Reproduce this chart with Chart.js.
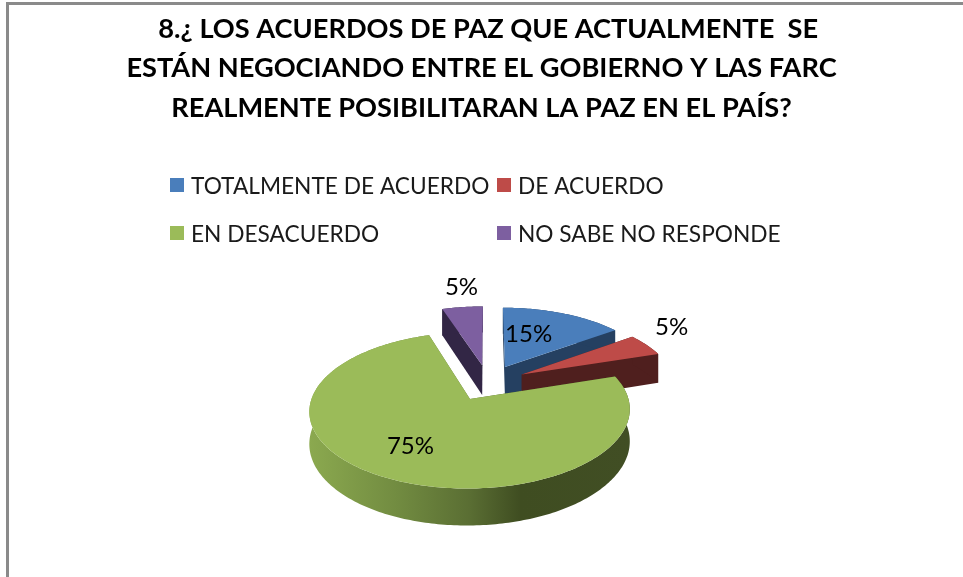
<!DOCTYPE html>
<html>
<head>
<meta charset="utf-8">
<style>
html,body{margin:0;padding:0;background:#fff;width:963px;height:577px;overflow:hidden}
#frame{position:absolute;left:6px;top:2px;right:0;bottom:0;border-left:3px solid #8a8a8a;border-top:3px solid #8a8a8a;pointer-events:none}
canvas{position:absolute;left:0;top:0;filter:blur(0.35px)}
</style>
<script src="https://cdn.jsdelivr.net/npm/chart.js@4/dist/chart.umd.js"></script>
</head>
<body>
<canvas id="c" width="963" height="577"></canvas>
<div id="frame"></div>
<script>
const titleLines = [
  "  8.¿ LOS ACUERDOS DE PAZ QUE ACTUALMENTE  SE",
  "ESTÁN NEGOCIANDO ENTRE EL GOBIERNO Y LAS FARC",
  "REALMENTE POSIBILITARAN LA PAZ EN EL PAÍS?"
];
const categories = ["TOTALMENTE DE ACUERDO", "DE ACUERDO", "EN DESACUERDO", "NO SABE NO RESPONDE"];
const values = [15, 5, 75, 5];
const topColors = ["#4a7ebb", "#be4b48", "#9bbb59", "#7d5fa0"];
const sideColors = ["#254061", "#4f1f1e", null, "#322645"];
const greenSideStops = [[0, "#8ba94f"], [0.27, "#728c41"], [0.5, "#5a6e33"], [0.66, "#3f4d21"], [1, "#414e24"]];

const FONT = "Lato, Carlito, Calibri, sans-serif";
// View of the tilted plane: where the pie centre lands, tilt, perspective, thickness.
const VIEW = { x: 488, y: 382.5, tilt: 0.467, persp: 0.00092, depth: 30.6 };
// Radius and angular nudge of each data label around its slice.
const labelRadius = [84, 206.7, 101.5, 213.7];
const labelNudgeDeg = [-8, -6.8, 3.4, 1.85];
// Legend grid.
const LEGEND = { cols: [170, 497], rows: [185, 233], box: 14, gap: 7, size: 22.7, textDrop: 1.5 };

function project(px, py, z) {
  const s = 1 / (1 - VIEW.persp * py);
  return [VIEW.x + px * s, VIEW.y + py * VIEW.tilt * s - (z || 0) * s];
}
function sliceGeom(el) {
  const p = el.getProps(["startAngle", "endAngle", "outerRadius"], true);
  const mid = (p.startAngle + p.endAngle) / 2;
  const off = el.options.offset || 0;
  return { a0: p.startAngle, a1: p.endAngle, r: p.outerRadius, mid, cx: Math.cos(mid) * off, cy: Math.sin(mid) * off };
}
function rimPoints(g, z) {
  const pts = [];
  const n = Math.max(4, Math.ceil((g.a1 - g.a0) / (Math.PI / 180)));
  for (let i = 0; i <= n; i++) {
    const t = g.a0 + (g.a1 - g.a0) * i / n;
    pts.push(project(g.cx + Math.cos(t) * g.r, g.cy + Math.sin(t) * g.r, z));
  }
  return pts;
}
function poly(ctx, pts, fill) {
  ctx.beginPath();
  pts.forEach((q, i) => i ? ctx.lineTo(q[0], q[1]) : ctx.moveTo(q[0], q[1]));
  ctx.closePath();
  ctx.fillStyle = fill;
  ctx.fill();
}
function radialWall(ctx, g, angle, fill) {
  const rx = g.cx + Math.cos(angle) * g.r, ry = g.cy + Math.sin(angle) * g.r;
  poly(ctx, [project(g.cx, g.cy, 0), project(rx, ry, 0), project(rx, ry, -VIEW.depth), project(g.cx, g.cy, -VIEW.depth)], fill);
}

const pie3d = {
  id: "pie3d",
  beforeDatasetsDraw(chart) {
    const ctx = chart.ctx;
    const meta = chart.getDatasetMeta(0);
    ctx.save();
    [3, 0, 1, 2].forEach(i => {
      const g = sliceGeom(meta.data[i]);
      const top = rimPoints(g, 0);
      const low = rimPoints(g, -VIEW.depth);
      let side = sideColors[i];
      if (!side) {
        const xs = top.map(q => q[0]);
        const grad = ctx.createLinearGradient(Math.min(...xs), 0, Math.max(...xs), 0);
        greenSideStops.forEach(s => grad.addColorStop(s[0], s[1]));
        side = grad;
      }
      radialWall(ctx, g, g.a0, side);
      radialWall(ctx, g, g.a1, side);
      poly(ctx, top.concat(low.slice().reverse()), side);
      poly(ctx, [project(g.cx, g.cy, 0)].concat(top), topColors[i]);
    });
    ctx.restore();
    return false;
  },
  afterDraw(chart) {
    const ctx = chart.ctx;
    const meta = chart.getDatasetMeta(0);
    ctx.save();
    ctx.fillStyle = "#000";
    ctx.textAlign = "center";
    ctx.textBaseline = "middle";
    ctx.font = "24px " + FONT;
    values.forEach((v, i) => {
      const g = sliceGeom(meta.data[i]);
      const t = g.mid + labelNudgeDeg[i] * Math.PI / 180;
      const q = project(g.cx + Math.cos(t) * labelRadius[i], g.cy + Math.sin(t) * labelRadius[i], 0);
      ctx.fillText(v + "%", q[0], q[1]);
    });
    // Legend from the library's own generated items, laid out on a two-column grid.
    const items = Chart.overrides.pie.plugins.legend.labels.generateLabels(chart);
    ctx.textAlign = "left";
    ctx.font = LEGEND.size + "px " + FONT;
    items.forEach((it, i) => {
      const x = LEGEND.cols[i % 2], y = LEGEND.rows[Math.floor(i / 2)];
      ctx.fillStyle = it.fillStyle;
      ctx.fillRect(x, y - LEGEND.box / 2, LEGEND.box, LEGEND.box);
      ctx.fillStyle = "#1a1a1a";
      ctx.fillText(it.text, x + LEGEND.box + LEGEND.gap, y + LEGEND.textDrop);
    });
    ctx.restore();
  }
};

new Chart(document.getElementById("c"), {
  type: "pie",
  data: {
    labels: categories,
    datasets: [{ data: values, backgroundColor: topColors, borderWidth: 0, offset: 38.5, radius: 153.5 }]
  },
  options: {
    responsive: false,
    animation: false,
    layout: { padding: 0 },
    plugins: {
      legend: { display: false },
      tooltip: { enabled: false },
      title: {
        display: true,
        text: titleLines,
        color: "#000",
        align: "center",
        padding: { top: 9, bottom: 10 },
        font: { family: FONT, size: 27.2, weight: "bold", lineHeight: 1.463 }
      }
    }
  },
  plugins: [pie3d]
});
</script>
</body>
</html>
